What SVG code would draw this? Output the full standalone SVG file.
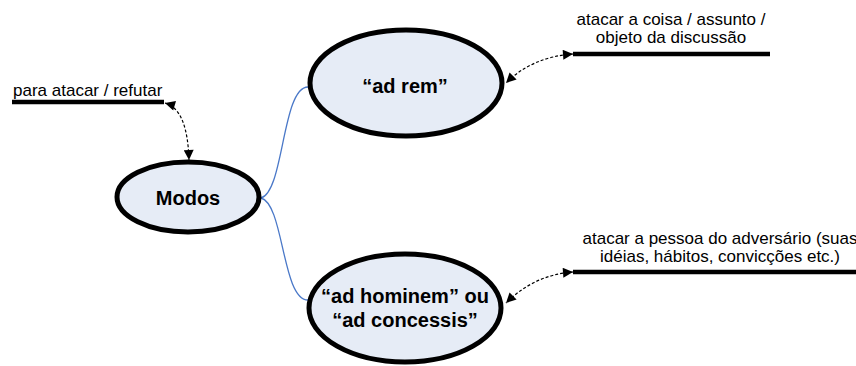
<svg xmlns="http://www.w3.org/2000/svg" width="856" height="366" viewBox="0 0 856 366">
  <style>
    .node { fill: #e6ecf6; stroke: #000; stroke-width: 5; }
    .ntext { font-family: "Liberation Sans", Arial, sans-serif; font-size: 20px; font-weight: bold; fill: #000; text-anchor: middle; }
    .label { font-family: "Liberation Sans", Arial, sans-serif; font-size: 17px; fill: #000; }
    .bar { stroke: #000; stroke-width: 4.5; fill: none; }
    .branch { stroke: #4a78c8; stroke-width: 1.3; fill: none; }
    .note { stroke: #000; stroke-width: 1.2; stroke-dasharray: 3 2; fill: none; marker-start: url(#tip); marker-end: url(#tip); }
  </style>
  <defs>
    <marker id="tip" viewBox="0 0 10 10" refX="10" refY="5" markerWidth="13" markerHeight="10" markerUnits="userSpaceOnUse" orient="auto-start-reverse">
      <path d="M0,0 L10,5 L0,10 Z" fill="#000"/>
    </marker>
  </defs>

  <!-- branches from the central node -->
  <g id="connectors">
    <path class="branch" d="M261,198 C284,192 282,87 308,87"/>
    <path class="branch" d="M261,198 C284,204 282,300 308,300"/>
    <path class="note" d="M165,103 C182,108 188,130 189,160"/>
    <path class="note" d="M573,54 C545,56 523,66 506,83"/>
    <path class="note" d="M573,272 C545,274 523,286 506,303"/>
  </g>

  <g id="modos">
    <ellipse class="node" cx="188" cy="197" rx="71" ry="35"/>
    <text class="ntext" x="188" y="205">Modos</text>
  </g>

  <g id="ad-rem">
    <ellipse class="node" cx="406" cy="83" rx="96" ry="53"/>
    <text class="ntext" x="405" y="93">“ad rem”</text>
  </g>

  <g id="ad-hominem">
    <ellipse class="node" cx="405" cy="308" rx="96" ry="54"/>
    <text class="ntext" x="405" y="303">“ad hominem” ou</text>
    <text class="ntext" x="405" y="327">“ad concessis”</text>
  </g>

  <g id="note-modos">
    <line class="bar" x1="12" y1="102" x2="164" y2="102"/>
    <text class="label" x="13" y="96">para atacar / refutar</text>
  </g>

  <g id="note-ad-rem">
    <line class="bar" x1="573" y1="54" x2="770" y2="54"/>
    <text class="label" x="671" y="25" text-anchor="middle">atacar a coisa / assunto /</text>
    <text class="label" x="671" y="43" text-anchor="middle">objeto da discussão</text>
  </g>

  <g id="note-ad-hominem">
    <line class="bar" x1="573" y1="272" x2="856" y2="272"/>
    <text class="label" x="720" y="244" text-anchor="middle">atacar a pessoa do adversário (suas</text>
    <text class="label" x="720" y="262" text-anchor="middle">idéias, hábitos, convicções etc.)</text>
  </g>
</svg>
